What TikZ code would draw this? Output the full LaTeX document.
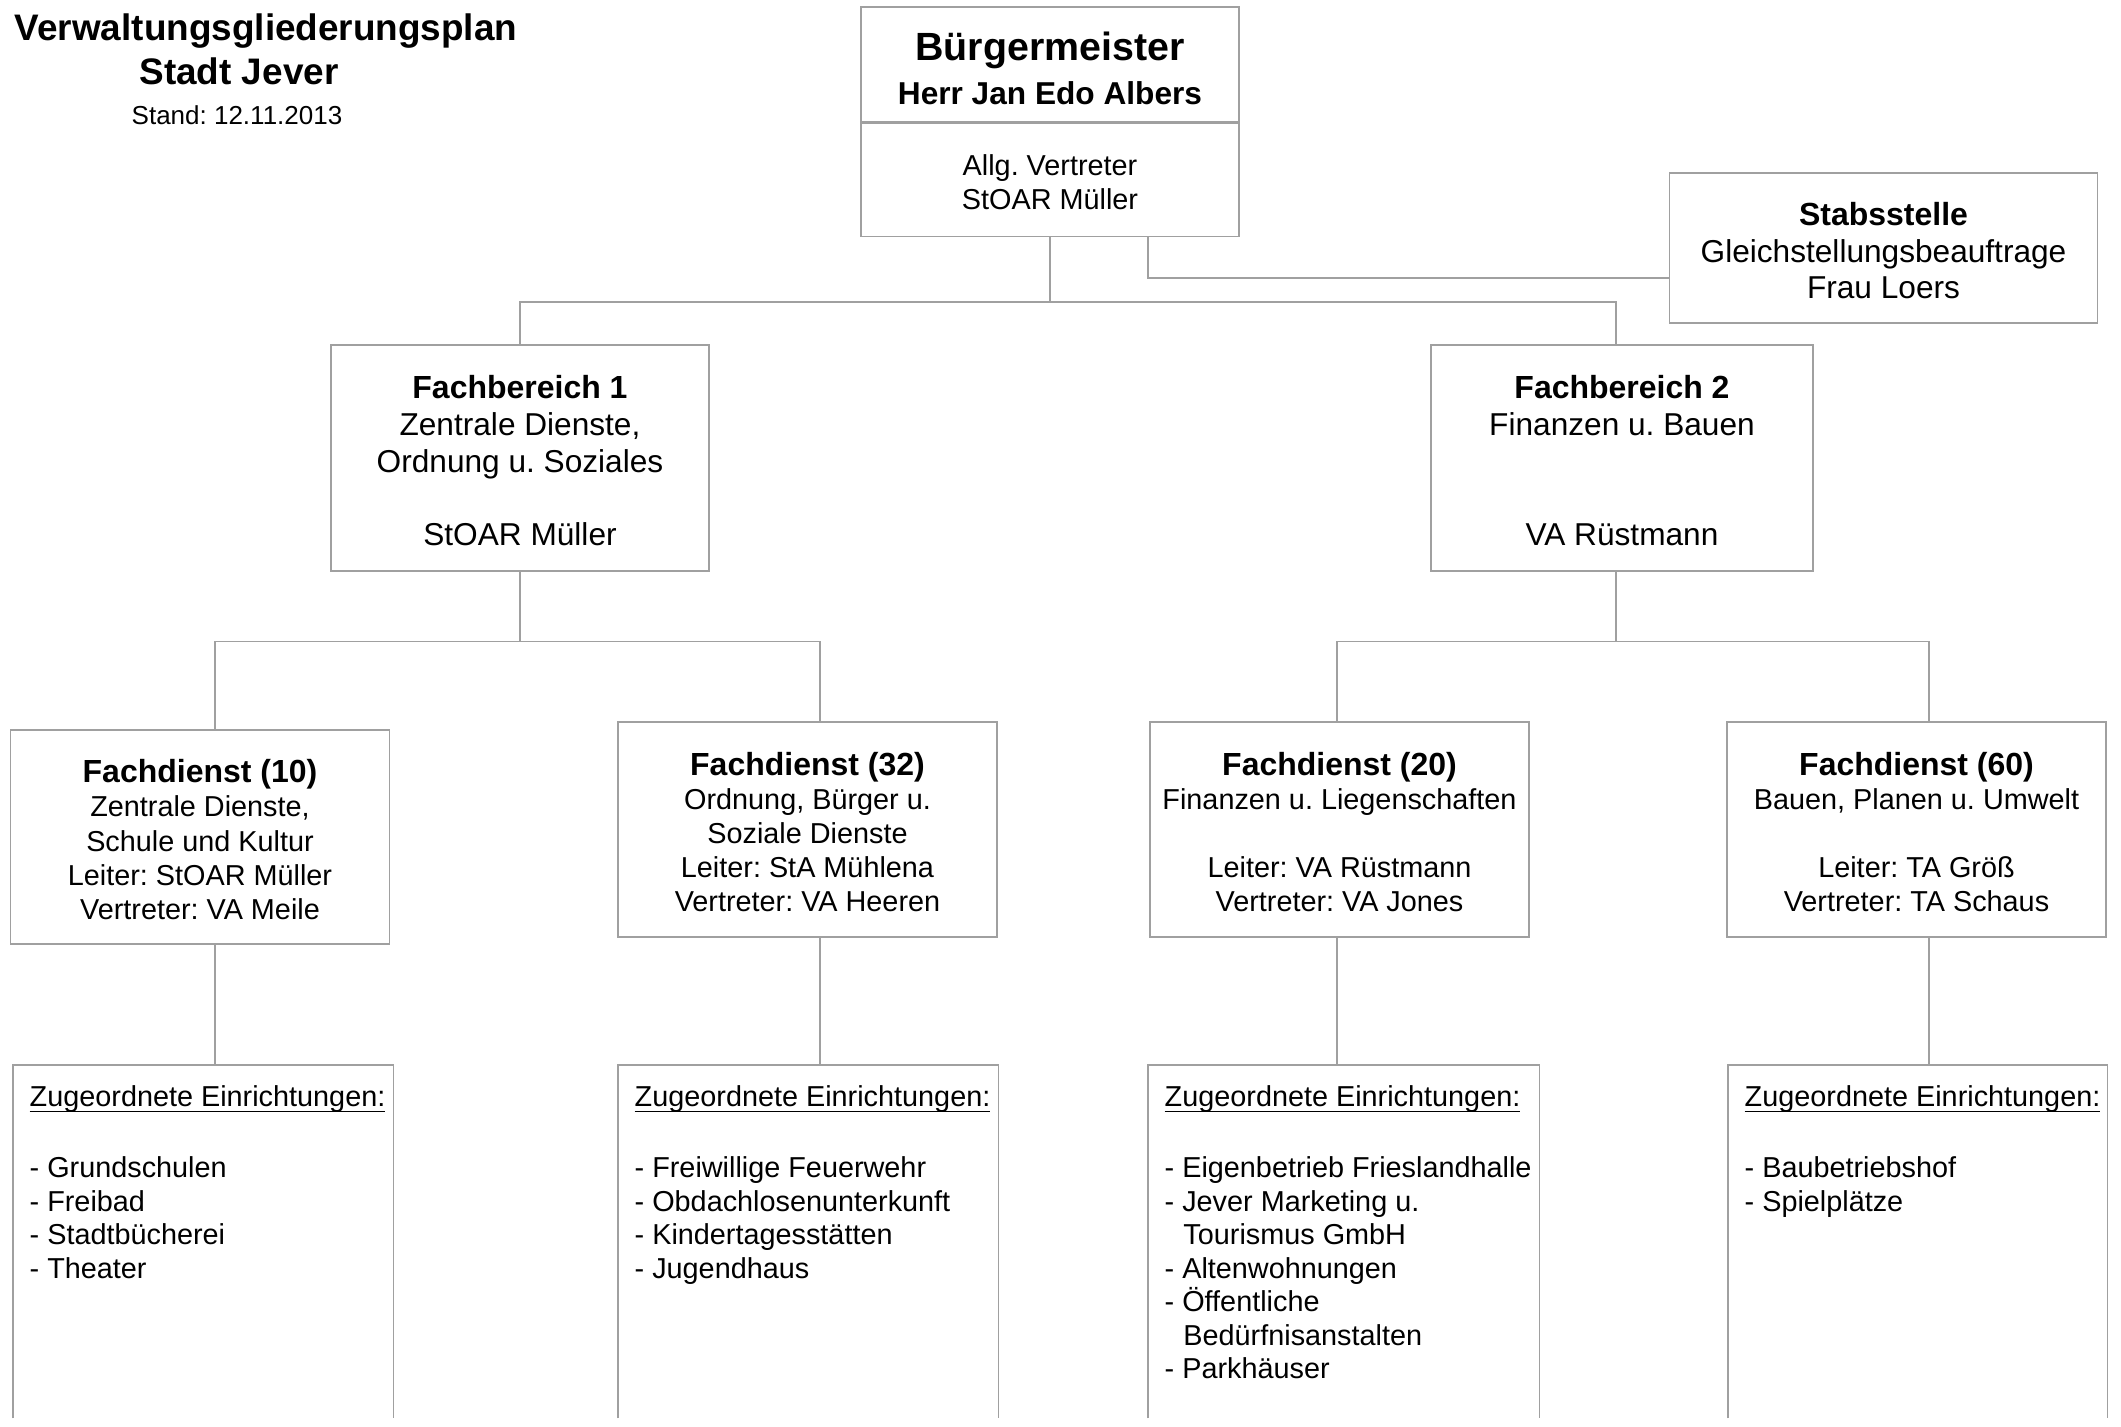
\documentclass[tikz,border=0pt]{standalone}
\usepackage{fontspec}
\setmainfont{Liberation Sans}
\usetikzlibrary{positioning}
\frenchspacing

\definecolor{liniengrau}{HTML}{A0A0A0}
\newcommand{\kopf}{\fontsize{9.1}{10.4}\selectfont\bfseries\rule{0pt}{8.1pt}}
\newcommand{\zugkopf}{\underline{\smash{Zugeordnete Einrichtungen:}}\vphantom{Zg}}

\tikzset{
    linie/.style={draw=liniengrau, line width=0.4pt},
    kasten/.style={linie, align=center, inner sep=0pt},
    fbkasten/.style={kasten, minimum width=3.8cm, minimum height=2.26cm,
        font=\fontsize{9}{10.4}\selectfont},
    fdkasten/.style={kasten, minimum width=3.79cm, minimum height=2.15cm,
        font=\fontsize{8.2}{9.7}\selectfont},
    zugrahmen/.style={inner sep=0pt, minimum height=3.52cm, anchor=north west},
    zugtext/.style={align=left, anchor=north west, inner xsep=0.16cm, inner ysep=0.21cm,
        font=\fontsize{8.2}{9.55}\selectfont},
}

\begin{document}
\begin{tikzpicture}
        \useasboundingbox (0,0) rectangle (21.21,-14.27);

        \node[anchor=base, font=\fontsize{10.5}{12}\selectfont\bfseries] (titel) at (2.66,-0.41) {Verwaltungsgliederungsplan};
        \node[anchor=base, font=\fontsize{10.5}{12}\selectfont\bfseries] (stadt) at (2.39,-0.845) {Stadt Jever};
        \node[anchor=base, font=\fontsize{7.4}{8}\selectfont] (stand) at (2.37,-1.25) {Stand: 12.11.2013};

        \node[kasten, minimum width=3.78cm, minimum height=1.15cm, font=\fontsize{9}{12.4}\selectfont] (bm) at (10.50,-0.645)
            {{\fontsize{11.2}{12.4}\selectfont\bfseries\rule{0pt}{10.3pt}Bürgermeister}\\\bfseries Herr Jan Edo Albers};
        \node[kasten, minimum width=3.78cm, minimum height=1.13cm, font=\fontsize{8.2}{9.7}\selectfont, below=0pt of bm] (bmv)
            {\rule{0pt}{7.5pt}Allg. Vertreter\\StOAR Müller};

        \node[kasten, minimum width=4.28cm, minimum height=1.50cm, font=\fontsize{9}{10.4}\selectfont] (stab) at (18.835,-2.48)
            {{\kopf Stabsstelle}\\Gleichstellungsbeauftrage\\Frau Loers};

        \node[fbkasten, minimum width=3.78cm] (fb1) at (5.20,-4.58)
            {{\kopf Fachbereich 1}\\Zentrale Dienste,\\Ordnung u. Soziales\\~\\StOAR Müller};
        \node[fbkasten, minimum width=3.82cm] (fb2) at (16.22,-4.58)
            {{\kopf Fachbereich 2}\\Finanzen u. Bauen\\~\\~\\VA Rüstmann};

        \node[fdkasten, minimum height=2.14cm] (fd10) at (2.00,-8.37)
            {{\kopf Fachdienst (10)}\\Zentrale Dienste,\\Schule und Kultur\\Leiter: StOAR Müller\\Vertreter: VA Meile};
        \node[fdkasten] (fd32) at (8.075,-8.295)
            {{\kopf Fachdienst (32)}\\Ordnung, Bürger u.\\Soziale Dienste\\Leiter: StA Mühlena\\Vertreter: VA Heeren};
        \node[fdkasten] (fd20) at (13.395,-8.295)
            {{\kopf Fachdienst (20)}\\Finanzen u. Liegenschaften\\~\\Leiter: VA Rüstmann\\Vertreter: VA Jones};
        \node[fdkasten] (fd60) at (19.165,-8.295)
            {{\kopf Fachdienst (60)}\\Bauen, Planen u. Umwelt\\~\\Leiter: TA Größ\\Vertreter: TA Schaus};

        \node[zugrahmen, minimum width=3.79cm] (zug10) at (0.13,-10.65) {};
        \node[zugrahmen, minimum width=3.79cm] (zug32) at (6.18,-10.65) {};
        \node[zugrahmen, minimum width=3.90cm] (zug20) at (11.48,-10.65) {};
        \node[zugrahmen, minimum width=3.78cm] (zug60) at (17.28,-10.65) {};

        \foreach \z in {zug10,zug32,zug20,zug60}
            \draw[linie] (\z.south west) -- (\z.north west) -- (\z.north east) -- (\z.south east);

        \node[zugtext] (zt10) at (zug10.north west)
            {\zugkopf\\[1.1pt]~\\- Grundschulen\\- Freibad\\- Stadtbücherei\\- Theater};
        \node[zugtext] (zt32) at (zug32.north west)
            {\zugkopf\\[1.1pt]~\\- Freiwillige Feuerwehr\\- Obdachlosenunterkunft\\- Kindertagesstätten\\- Jugendhaus};
        \node[zugtext] (zt20) at (zug20.north west)
            {\zugkopf\\[1.1pt]~\\- Eigenbetrieb Frieslandhalle\\- Jever Marketing u.\\\hspace*{0.65em}Tourismus GmbH\\- Altenwohnungen\\- Öffentliche\\\hspace*{0.65em}Bedürfnisanstalten\\- Parkhäuser};
        \node[zugtext] (zt60) at (zug60.north west)
            {\zugkopf\\[1.1pt]~\\- Baubetriebshof\\- Spielplätze};

        \draw[linie] (bmv.south) -- ++(0,-0.65) coordinate (bmknoten) -| (fb1.north);
        \draw[linie] (bmknoten) -| ([xshift=-0.6mm]fb2.north);
        \draw[linie] ([xshift=9.8mm]bmv.south) |- ([yshift=-3.0mm]stab.west);

        \draw[linie] (fb1.south) -- ++(0,-0.70) coordinate (fb1knoten) -| ([xshift=1.5mm]fd10.north);
        \draw[linie] (fb1knoten) -| ([xshift=1.25mm]fd32.north);
        \draw[linie] ([xshift=-0.6mm]fb2.south) -- ++(0,-0.70) coordinate (fb2knoten) -| ([xshift=-0.25mm]fd20.north);
        \draw[linie] (fb2knoten) -| ([xshift=1.25mm]fd60.north);

        \draw[linie] ([xshift=1.5mm]fd10.south) -- ([xshift=1.5mm]fd10.south |- zug10.north);
        \draw[linie] ([xshift=1.25mm]fd32.south) -- ([xshift=1.25mm]fd32.south |- zug32.north);
        \draw[linie] ([xshift=-0.25mm]fd20.south) -- ([xshift=-0.25mm]fd20.south |- zug20.north);
        \draw[linie] ([xshift=1.25mm]fd60.south) -- ([xshift=1.25mm]fd60.south |- zug60.north);
\end{tikzpicture}
\end{document}
